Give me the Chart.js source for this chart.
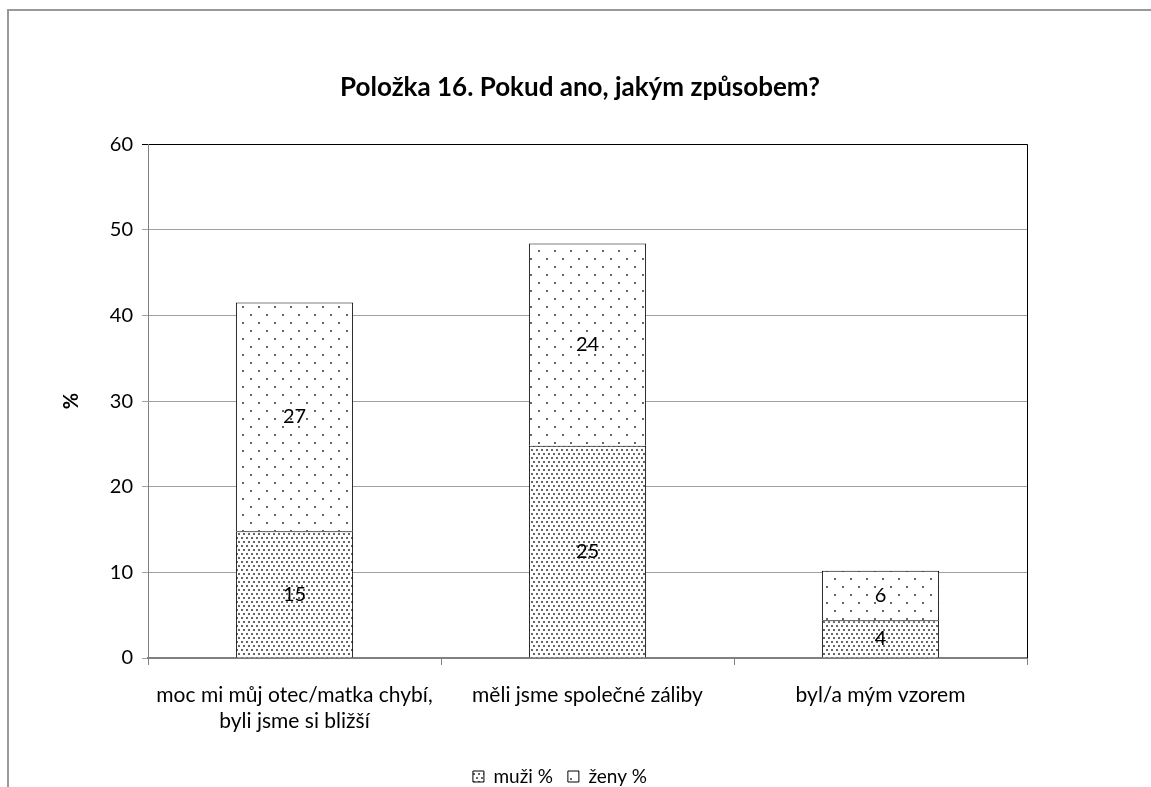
<!DOCTYPE html>
<html>
<head>
<meta charset="utf-8">
<script src="https://cdn.jsdelivr.net/npm/chart.js@4.4.0/dist/chart.umd.min.js"></script>
<style>
  html, body { margin: 0; padding: 0; background: #fff; }
  #wrap { width: 1151px; height: 787px; }
</style>
</head>
<body>
<div id="wrap"><canvas id="theChart" width="1151" height="787"></canvas></div>
<script>
// data
var categories = [
    ['moc mi můj otec/matka chybí,', 'byli jsme si bližší'],
    'měli jsme společné záliby',
    'byl/a mým vzorem'
];
var muzi = [14.8, 24.8, 4.4];
var zeny = [26.7, 23.6, 5.8];
var yTicks = [0, 10, 20, 30, 40, 50, 60];

var FONT = 'Lato, "Liberation Sans", sans-serif';

function dotPattern(w, h, pts, color) {
    var c = document.createElement('canvas');
    c.width = w;
    c.height = h;
    var g = c.getContext('2d');
    g.fillStyle = '#fff';
    g.fillRect(0, 0, w, h);
    g.fillStyle = color;
    pts.forEach(function (p) { g.fillRect(p[0], p[1], 2, 2); });
    return document.getElementById('theChart').getContext('2d').createPattern(c, 'repeat');
}

var densePat = dotPattern(10, 8, [[1, 1], [6, 1], [3, 5], [8, 5]], '#666');
var sparsePat = dotPattern(16, 16, [[2, 2], [10, 10]], '#666');

// rounded values drawn in the middle of each segment
var segmentLabels = {
    id: 'segmentLabels',
    afterDatasetsDraw: function (chart) {
        var ctx = chart.ctx;
        ctx.save();
        ctx.font = '20px ' + FONT;
        ctx.fillStyle = '#000';
        ctx.textAlign = 'center';
        ctx.textBaseline = 'middle';
        chart.data.datasets.forEach(function (ds, i) {
            chart.getDatasetMeta(i).data.forEach(function (bar, j) {
                var p = bar.getProps(['x', 'y', 'base'], true);
                ctx.fillText(String(Math.round(ds.data[j])), p.x, (p.y + p.base) / 2);
            });
        });
        ctx.restore();
    }
};

// outer frame, right edge of plot area, legend nudge
var frame = {
    id: 'frame',
    afterLayout: function (chart) {
        var lg = chart.legend;
        lg.left -= 20;
        lg.right -= 20;
        lg.top += 17;
        lg.bottom += 17;
    },
    beforeDraw: function (chart) {
        var ctx = chart.ctx;
        ctx.save();
        ctx.fillStyle = '#fff';
        ctx.fillRect(0, 0, chart.width, chart.height);
        ctx.strokeStyle = '#999';
        ctx.lineWidth = 2;
        ctx.beginPath();
        ctx.moveTo(8, chart.height);
        ctx.lineTo(8, 10);
        ctx.lineTo(chart.width, 10);
        ctx.stroke();
        ctx.restore();
    },
    afterDraw: function (chart) {
        var a = chart.chartArea;
        var ctx = chart.ctx;
        ctx.save();
        ctx.strokeStyle = '#000';
        ctx.lineWidth = 1;
        ctx.beginPath();
        ctx.moveTo(Math.round(a.right) + 0.5, a.top);
        ctx.lineTo(Math.round(a.right) + 0.5, a.bottom);
        ctx.stroke();
        ctx.restore();
    }
};

var ctx = document.getElementById('theChart').getContext('2d');
var chart = new Chart(ctx, {
    type: 'bar',
    data: {
        labels: categories,
        datasets: [
            { label: 'muži %', data: muzi, backgroundColor: densePat, borderColor: '#000', borderWidth: 1 },
            { label: 'ženy %', data: zeny, backgroundColor: sparsePat, borderColor: '#000', borderWidth: 1 }
        ]
    },
    options: {
        responsive: false,
        animation: false,
        layout: { padding: { left: 20, right: 11, top: 0, bottom: 8 } },
        datasets: { bar: { categoryPercentage: 1, barPercentage: 0.4 } },
        plugins: {
            title: {
                display: true,
                text: 'Položka 16. Pokud ano, jakým způsobem?',
                color: '#000',
                font: { family: FONT, size: 26, weight: 'bold', lineHeight: 1.2 },
                padding: { top: 72, bottom: 41 }
            },
            legend: {
                position: 'bottom',
                labels: {
                    color: '#000',
                    font: { family: FONT, size: 19 },
                    boxWidth: 11,
                    boxHeight: 11,
                    padding: 15
                }
            },
            tooltip: { enabled: false }
        },
        scales: {
            x: {
                stacked: true,
                grid: { offset: true, drawOnChartArea: false, tickLength: 7, color: '#808080' },
                border: { color: '#808080', width: 2 },
                ticks: {
                    color: '#000',
                    font: { family: FONT, size: 21, lineHeight: 1.2 },
                    maxRotation: 0,
                    autoSkip: false,
                    padding: 18
                },
                afterFit: function (s) { s.height = 77; }
            },
            y: {
                stacked: true,
                min: 0,
                max: 60,
                afterBuildTicks: function (s) { s.ticks = yTicks.map(function (v) { return { value: v }; }); },
                grid: {
                    tickLength: 6,
                    color: function (c) { return c.tick && c.tick.value === 60 ? '#000' : '#a0a0a0'; }
                },
                border: { color: '#808080', width: 1 },
                ticks: { color: '#000', font: { family: FONT, size: 20 }, padding: 9 },
                title: {
                    display: true,
                    text: '%',
                    color: '#000',
                    font: { family: FONT, size: 20, weight: 'bold' },
                    padding: { top: 40, bottom: 0 }
                },
                afterFit: function (s) { s.width = 128; }
            },
            // empty right-hand strip so the plot ends where the original does
            yRight: {
                position: 'right',
                grid: { display: false },
                border: { display: false },
                ticks: { display: false },
                afterFit: function (s) { s.width = 113; }
            }
        }
    },
    plugins: [frame, segmentLabels]
});
</script>
</body>
</html>
